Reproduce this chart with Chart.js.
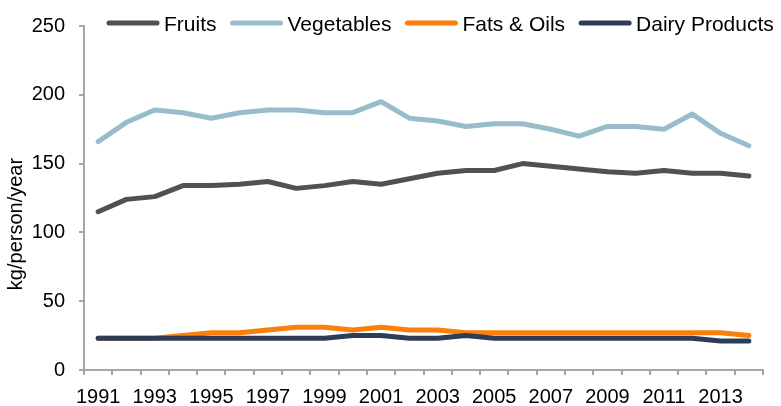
<!DOCTYPE html>
<html>
<head>
<meta charset="utf-8">
<script src="https://cdn.jsdelivr.net/npm/chart.js@4/dist/chart.umd.min.js"></script>
<style>
  body { margin: 0; background: #fff; }
  #wrap { width: 781px; height: 406px; }
</style>
</head>
<body>
<div id="wrap"><canvas id="chart" width="781" height="406"></canvas></div>
<script>
// per-capita supply, kg/person/year
const years = [1991, 1992, 1993, 1994, 1995, 1996, 1997, 1998, 1999, 2000, 2001, 2002,
               2003, 2004, 2005, 2006, 2007, 2008, 2009, 2010, 2011, 2012, 2013, 2014];
const fruits     = [115, 124, 126, 134, 134, 135, 137, 132, 134, 137, 135, 139,
                    143, 145, 145, 150, 148, 146, 144, 143, 145, 143, 143, 141];
const vegetables = [166, 180, 189, 187, 183, 187, 189, 189, 187, 187, 195, 183,
                    181, 177, 179, 179, 175, 170, 177, 177, 175, 186, 172, 163];
const fatsOils   = [23, 23, 23, 25, 27, 27, 29, 31, 31, 29, 31, 29,
                    29, 27, 27, 27, 27, 27, 27, 27, 27, 27, 27, 25];
const dairy      = [23, 23, 23, 23, 23, 23, 23, 23, 23, 25, 25, 23,
                    23, 25, 23, 23, 23, 23, 23, 23, 23, 23, 21, 21];
const yTicks = [0, 50, 100, 150, 200, 250];

const axisGray = "#a6a6a6";
const fontFamily = "'Liberation Sans', Arial, sans-serif";

function series(label, data, color, order) {
  return {
    label: label,
    data: data,
    borderColor: color,
    backgroundColor: color,
    borderWidth: 5,
    borderCapStyle: "round",
    borderJoinStyle: "round",
    pointRadius: 0,
    tension: 0,
    order: order
  };
}

// legend sits inside the plot, along the top edge
const topLegend = {
  id: "topLegend",
  afterDraw(chart) {
    const ctx = chart.ctx;
    ctx.save();
    ctx.font = "21px " + fontFamily;
    ctx.textBaseline = "middle";
    ctx.fillStyle = "#000";
    let x = 106;
    chart.data.datasets.forEach((ds) => {
      ctx.strokeStyle = ds.borderColor;
      ctx.lineWidth = 5;
      ctx.lineCap = "round";
      ctx.beginPath();
      ctx.moveTo(x + 3, 23);
      ctx.lineTo(x + 51, 23);
      ctx.stroke();
      ctx.fillText(ds.label, x + 58, 25);
      x += 58 + ctx.measureText(ds.label).width + 13;
    });
    ctx.restore();
  }
};

// rotated y-axis title
const yTitle = {
  id: "yTitle",
  afterDraw(chart) {
    const ctx = chart.ctx;
    const a = chart.chartArea;
    ctx.save();
    ctx.font = "20px " + fontFamily;
    ctx.fillStyle = "#000";
    ctx.textAlign = "center";
    ctx.textBaseline = "middle";
    ctx.translate(16, (a.top + a.bottom) / 2 + 26);
    ctx.rotate(-Math.PI / 2);
    ctx.fillText("kg/person/year", 0, 0);
    ctx.restore();
  }
};

new Chart(document.getElementById("chart"), {
  type: "line",
  data: {
    labels: years,
    datasets: [
      series("Fruits", fruits, "#515151", 3),
      series("Vegetables", vegetables, "#98bdca", 2),
      series("Fats & Oils", fatsOils, "#fb7f08", 1),
      series("Dairy Products", dairy, "#2f3c58", 0)
    ]
  },
  options: {
    responsive: false,
    animation: false,
    layout: { padding: { top: 21, right: 18, left: 0, bottom: 0 } },
    plugins: {
      legend: { display: false },
      tooltip: { enabled: false }
    },
    scales: {
      x: {
        type: "category",
        offset: true,
        border: { color: axisGray, width: 2 },
        grid: {
          offset: true,
          drawOnChartArea: false,
          tickLength: 5,
          tickColor: axisGray,
          lineWidth: 2
        },
        ticks: {
          autoSkip: false,
          maxRotation: 0,
          padding: 10,
          color: "#000",
          font: { family: fontFamily, size: 20 },
          callback: (v, i) => (i % 2 === 0 ? String(years[i]) : "")
        },
        afterFit: (scale) => { scale.height = 36; }
      },
      y: {
        min: 0,
        max: 250,
        border: { color: axisGray, width: 2 },
        grid: {
          drawOnChartArea: false,
          tickLength: 5,
          tickColor: axisGray,
          lineWidth: 2
        },
        afterBuildTicks: (scale) => { scale.ticks = yTicks.map((v) => ({ value: v })); },
        ticks: {
          padding: 14,
          color: "#000",
          font: { family: fontFamily, size: 20 }
        },
        afterFit: (scale) => { scale.width = 84; }
      }
    }
  },
  plugins: [topLegend, yTitle]
});
</script>
</body>
</html>
